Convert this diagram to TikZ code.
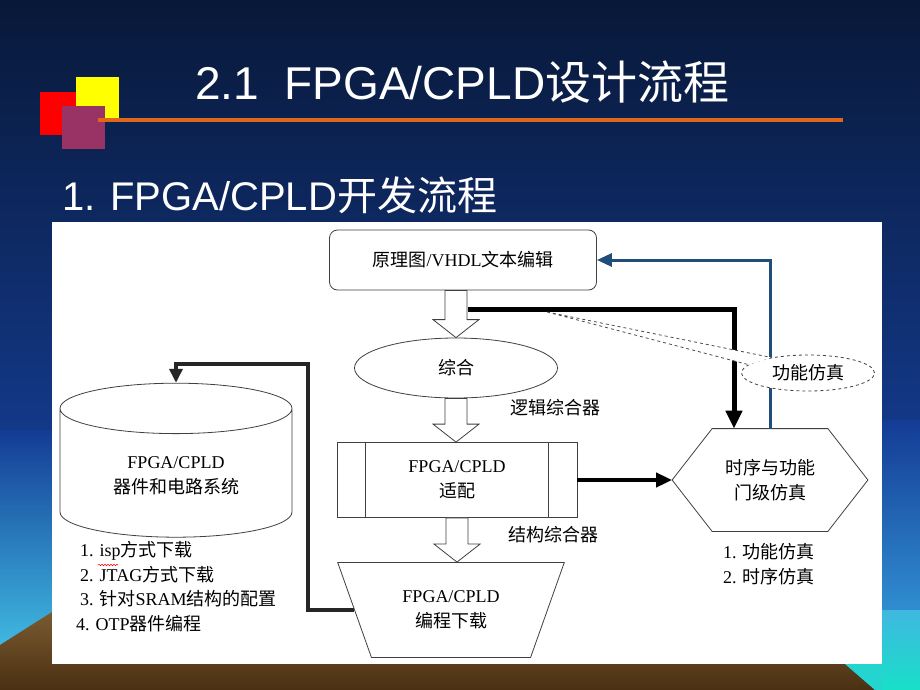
\documentclass[tikz,border=0pt]{standalone}
\usepackage{fontspec}
\setmainfont{Liberation Serif}
\newfontfamily\cjk{Noto Sans CJK SC}
\newfontfamily\titlefont{Liberation Sans}
\usetikzlibrary{shapes.geometric,arrows.meta,calc,decorations.pathmorphing}

\definecolor{navytop}{HTML}{081838}
\definecolor{navymid}{HTML}{0D2B72}
\definecolor{navybot}{HTML}{1A4CB8}
\definecolor{skycyan}{HTML}{3FB8E0}
\definecolor{seacyan}{HTML}{18E0C8}
\definecolor{earthlight}{HTML}{7A5A30}
\definecolor{earthdark}{HTML}{4A3012}
\definecolor{fbblue}{HTML}{1F4E7A}
\definecolor{rulecol}{HTML}{E0661A}
\definecolor{sqred}{HTML}{FF0000}
\definecolor{sqyellow}{HTML}{FFFF00}
\definecolor{sqpurple}{HTML}{993366}

\newcommand\zh[1]{{\cjk #1}}
% hollow block arrow between two points (x taken from the first one)
\newcommand\blockarrow[2]{%
  \draw[fill=white, draw=black!75, line width=0.8pt] let \p1=(#1), \p2=(#2) in
    (\x1-11pt,\y1) -- (\x1+11pt,\y1) -- (\x1+11pt,\y2+18pt) -- (\x1+23pt,\y2+18pt)
    -- (\x1,\y2) -- (\x1-23pt,\y2+18pt) -- (\x1-11pt,\y2+18pt) -- cycle;}

\tikzset{
  box/.style={draw=black!75, line width=0.8pt, fill=white, align=center,
    font=\fontsize{18}{25}\selectfont},
  outline/.style={draw=black!75, line width=0.8pt},
  lbl/.style={font=\fontsize{18}{24.7}\selectfont, align=left, inner sep=0pt},
  heavy/.style={line width=5pt, -{Triangle[length=18pt,width=16pt]}},
  medium/.style={line width=4pt, -{Triangle[length=16pt,width=14pt]}},
  loopback/.style={line width=3.5pt, black!85, -{Triangle[length=14pt,width=13pt]}},
  fb/.style={line width=3pt, fbblue, -{Triangle[length=15pt,width=13pt]}},
  heading/.style={text=white, anchor=base west, inner sep=0pt}
}

\begin{document}
\begin{tikzpicture}[x=1pt, y=-1pt]
\useasboundingbox (0,0) rectangle (920,690);
% slide background
\shade[top color=navytop, middle color=navymid, bottom color=navybot] (0,0) rectangle (920,690);
\shade[top color=navymid!50!navybot, bottom color=skycyan] (0,430) rectangle (52,645);
\shade[top color=navymid!50!navybot, bottom color=skycyan!60!navybot] (882,420) rectangle (920,610);
\shade[top color=skycyan, bottom color=seacyan] (882,610) rectangle (920,690);
\shade[top color=earthlight, bottom color=earthdark] (0,645) -- (52,612) -- (52,664) -- (845,664)
  -- (875,690) -- (0,690) -- cycle;
\fill[seacyan!70!skycyan] (845,664) -- (882,664) -- (882,690) -- (875,690) -- cycle;

% logo squares and rule
\fill[sqred] (40,92) rectangle (84,135);
\fill[sqyellow] (76,77) rectangle (119,118);
\fill[sqpurple] (62,106) rectangle (105,149);
\draw[rulecol, line width=4pt] (98,120) -- (843,120);

\node[heading] (title) at (195,100) {\fontsize{46}{46}\selectfont\titlefont 2.1\ \ FPGA/CPLD\cjk 设计流程};
\node[heading] (subtitle) at (62,210) {\fontsize{40}{40}\selectfont\titlefont 1. FPGA/CPLD\cjk 开发流程};

% white panel
\fill[white] (52,222) rectangle (882,664);

\node[box, rounded corners=8pt, minimum width=267pt, minimum height=60pt] (edit) at (463,260)
  {\zh{原理图}/VHDL\zh{文本编辑}};
\node[box, ellipse, minimum width=203pt, minimum height=60pt] (synth) at (456,368) {\zh{综合}};
\node[box, minimum width=240pt, minimum height=75pt] (fit) at (457,480) {FPGA/CPLD\\\zh{适配}};
\draw[outline] ([xshift=29pt]fit.north west) -- ([xshift=29pt]fit.south west)
  ([xshift=-29pt]fit.north east) -- ([xshift=-29pt]fit.south east);
\node[box, trapezium, shape border rotate=180, trapezium left angle=64, trapezium right angle=64,
  trapezium stretches=true, minimum width=227pt, minimum height=95pt] (prog) at (451,610)
  {FPGA/CPLD\\\zh{编程下载}};
\node[box, draw=none, fill=none, minimum width=195pt, minimum height=102pt] (timing) at (770,480)
  {\zh{时序与功能}\\\zh{门级仿真}};
\draw[outline] (timing.west) -- ([xshift=40pt]timing.north west) -- ([xshift=-40pt]timing.north east)
  -- (timing.east) -- ([xshift=-40pt]timing.south east) -- ([xshift=40pt]timing.south west) -- cycle;
\node[box, cylinder, shape border rotate=90, aspect=0.38, minimum width=232pt,
  minimum height=154pt] (board) at (176,476) {FPGA/CPLD\\\zh{器件和电路系统}};

\node[lbl] (logic) at (555,408) {\zh{逻辑综合器}};
\node[lbl] (struct) at (553,535) {\zh{结构综合器}};
\node[lbl, anchor=north west] (modes) at (80,541)
  {1. isp\zh{方式下载}\\2. JTAG\zh{方式下载}\\3. \zh{针对}SRAM\zh{结构的配置}\\\hspace*{-4pt}4. OTP\zh{器件编程}};
\node[lbl, anchor=north west] (simlist) at (723,543) {1. \zh{功能仿真}\\2. \zh{时序仿真}};
\draw[red, line width=0.5pt, decorate, decoration={snake, amplitude=0.8pt, segment length=3pt}]
  (98,565) -- (118,565);

% main flow
\blockarrow{synth.north |- edit.south}{synth.north}
\blockarrow{synth.south}{synth.south |- fit.north}
\blockarrow{fit.south}{fit.south |- prog.north}

\coordinate (split) at (468,309);
\draw[heavy] (split) -| ([xshift=-36pt]timing.north);
\draw[medium] (fit.east) -- (timing.west);
\draw[loopback] (prog.west) -- ++(-46,0) |- ([yshift=19pt]board.north) -- (board.north);
\draw[fb] (timing.north) |- (edit.east);

% functional simulation callout
\coordinate (tip) at (547,312);
\node[box, ellipse, dashed, minimum width=133pt, minimum height=36pt, inner sep=0pt] (fsim)
  at (808,373) {\zh{功能仿真}};
\fill[white] (tip) -- (fsim.157) -- (fsim.172) -- cycle;
\draw[dashed, black!70, line width=0.8pt] (tip) -- (fsim.157) (tip) -- (fsim.172);
\end{tikzpicture}
\end{document}
